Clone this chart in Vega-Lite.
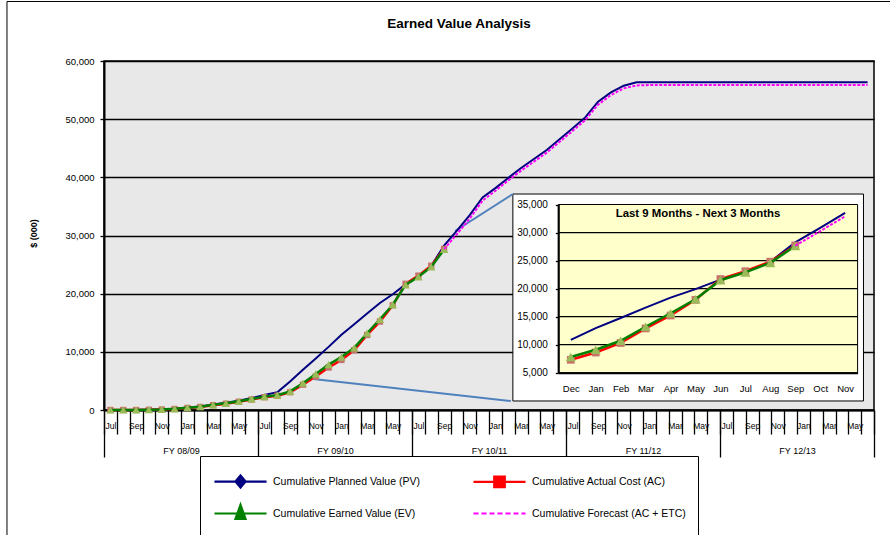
{
  "$schema": "https://vega.github.io/schema/vega-lite/v6.json",
  "width": 770,
  "height": 349,
  "autosize": {"type": "none"},
  "padding": {"left": 104, "top": 61, "right": 16, "bottom": 125},
  "background": "white",
  "title": {"text": "Earned Value Analysis", "font": "Liberation Sans", "fontSize": 13.5, "fontWeight": "bold", "color": "black", "anchor": "middle", "frame": "group", "dx": -30, "offset": -41, "baseline": "alphabetic"},
  "config": {
    "view": {"fill": "#E8E8E8", "stroke": "black", "strokeWidth": 1.5},
    "axis": {"labelFont": "Liberation Sans", "titleFont": "Liberation Sans", "labelColor": "black", "titleColor": "black", "grid": false, "tickColor": "black", "domainColor": "black"},
    "legend": {"labelFont": "Liberation Sans", "labelFontSize": 10.5, "labelColor": "black", "symbolSize": 576, "symbolStrokeWidth": 2.2, "symbolOpacity": 1, "labelOffset": 19, "symbolOffset": 15, "columnPadding": 49, "rowPadding": 8, "padding": 12, "strokeColor": "black", "fillColor": "white", "labelLimit": 400}
  },
  "datasets": {
    "d": [
      {"i":0,"s":"PV","v":0},{"i":1,"s":"PV","v":0},{"i":2,"s":"PV","v":20},{"i":3,"s":"PV","v":60},{"i":4,"s":"PV","v":120},{"i":5,"s":"PV","v":230},{"i":6,"s":"PV","v":430},{"i":7,"s":"PV","v":620},{"i":8,"s":"PV","v":950},{"i":9,"s":"PV","v":1250},
      {"i":10,"s":"PV","v":1600},{"i":11,"s":"PV","v":2050},{"i":12,"s":"PV","v":2600},{"i":13,"s":"PV","v":3050},{"i":14,"s":"PV","v":4900},{"i":15,"s":"PV","v":6900},{"i":16,"s":"PV","v":8850},{"i":17,"s":"PV","v":10850},{"i":18,"s":"PV","v":12950},{"i":19,"s":"PV","v":14750},
      {"i":20,"s":"PV","v":16600},{"i":21,"s":"PV","v":18400},{"i":22,"s":"PV","v":19900},{"i":23,"s":"PV","v":21600},{"i":24,"s":"PV","v":23000},{"i":25,"s":"PV","v":24800},{"i":26,"s":"PV","v":28250},{"i":27,"s":"PV","v":30850},{"i":28,"s":"PV","v":33500},{"i":29,"s":"PV","v":36550},
      {"i":30,"s":"PV","v":38150},{"i":31,"s":"PV","v":39900},{"i":32,"s":"PV","v":41600},{"i":33,"s":"PV","v":43150},{"i":34,"s":"PV","v":44700},{"i":35,"s":"PV","v":46550},{"i":36,"s":"PV","v":48400},{"i":37,"s":"PV","v":50300},{"i":38,"s":"PV","v":53000},{"i":39,"s":"PV","v":54600},
      {"i":40,"s":"PV","v":55750},{"i":41,"s":"PV","v":56350},{"i":42,"s":"PV","v":56350},{"i":43,"s":"PV","v":56350},{"i":44,"s":"PV","v":56350},{"i":45,"s":"PV","v":56350},{"i":46,"s":"PV","v":56350},{"i":47,"s":"PV","v":56350},{"i":48,"s":"PV","v":56350},{"i":49,"s":"PV","v":56350},
      {"i":50,"s":"PV","v":56350},{"i":51,"s":"PV","v":56350},{"i":52,"s":"PV","v":56350},{"i":53,"s":"PV","v":56350},{"i":54,"s":"PV","v":56350},{"i":55,"s":"PV","v":56350},{"i":56,"s":"PV","v":56350},{"i":57,"s":"PV","v":56350},{"i":58,"s":"PV","v":56350},{"i":59,"s":"PV","v":56350},
      {"i":0,"s":"EV","v":0},{"i":1,"s":"EV","v":0},{"i":2,"s":"EV","v":0},{"i":3,"s":"EV","v":50},{"i":4,"s":"EV","v":100},{"i":5,"s":"EV","v":200},{"i":6,"s":"EV","v":400},{"i":7,"s":"EV","v":570},{"i":8,"s":"EV","v":900},{"i":9,"s":"EV","v":1150},
      {"i":10,"s":"EV","v":1500},{"i":11,"s":"EV","v":1900},{"i":12,"s":"EV","v":2300},{"i":13,"s":"EV","v":2550},{"i":14,"s":"EV","v":3200},{"i":15,"s":"EV","v":4600},{"i":16,"s":"EV","v":6200},{"i":17,"s":"EV","v":7800},{"i":18,"s":"EV","v":9100},{"i":19,"s":"EV","v":10700},
      {"i":20,"s":"EV","v":13200},{"i":21,"s":"EV","v":15600},{"i":22,"s":"EV","v":18100},{"i":23,"s":"EV","v":21500},{"i":24,"s":"EV","v":22900},{"i":25,"s":"EV","v":24600},{"i":26,"s":"EV","v":27600},
      {"i":0,"s":"AC","v":0},{"i":1,"s":"AC","v":0},{"i":2,"s":"AC","v":0},{"i":3,"s":"AC","v":30},{"i":4,"s":"AC","v":80},{"i":5,"s":"AC","v":170},{"i":6,"s":"AC","v":350},{"i":7,"s":"AC","v":520},{"i":8,"s":"AC","v":830},{"i":9,"s":"AC","v":1080},
      {"i":10,"s":"AC","v":1420},{"i":11,"s":"AC","v":1800},{"i":12,"s":"AC","v":2200},{"i":13,"s":"AC","v":2450},{"i":14,"s":"AC","v":3050},{"i":15,"s":"AC","v":4350},{"i":16,"s":"AC","v":5750},{"i":17,"s":"AC","v":7300},{"i":18,"s":"AC","v":8600},{"i":19,"s":"AC","v":10300},
      {"i":20,"s":"AC","v":12900},{"i":21,"s":"AC","v":15200},{"i":22,"s":"AC","v":18000},{"i":23,"s":"AC","v":21700},{"i":24,"s":"AC","v":23100},{"i":25,"s":"AC","v":24800},{"i":26,"s":"AC","v":27700},
      {"i":26,"s":"FC","v":27650},{"i":27,"s":"FC","v":30250},{"i":28,"s":"FC","v":32900},{"i":29,"s":"FC","v":36000},
      {"i":30,"s":"FC","v":37700},{"i":31,"s":"FC","v":39450},{"i":32,"s":"FC","v":41150},{"i":33,"s":"FC","v":42700},{"i":34,"s":"FC","v":44250},{"i":35,"s":"FC","v":46100},{"i":36,"s":"FC","v":47950},{"i":37,"s":"FC","v":49850},{"i":38,"s":"FC","v":52500},{"i":39,"s":"FC","v":54150},
      {"i":40,"s":"FC","v":55300},{"i":41,"s":"FC","v":55800},{"i":42,"s":"FC","v":55870},{"i":43,"s":"FC","v":55870},{"i":44,"s":"FC","v":55870},{"i":45,"s":"FC","v":55870},{"i":46,"s":"FC","v":55870},{"i":47,"s":"FC","v":55870},{"i":48,"s":"FC","v":55870},{"i":49,"s":"FC","v":55870},
      {"i":50,"s":"FC","v":55870},{"i":51,"s":"FC","v":55870},{"i":52,"s":"FC","v":55870},{"i":53,"s":"FC","v":55870},{"i":54,"s":"FC","v":55870},{"i":55,"s":"FC","v":55870},{"i":56,"s":"FC","v":55870},{"i":57,"s":"FC","v":55870},{"i":58,"s":"FC","v":55870},{"i":59,"s":"FC","v":55870}
    ]
  },
  "data": {"name": "d"},
  "layer": [
    {
      "layer": [
        {
          "transform": [{"filter": "false"}],
          "mark": {"type": "point", "filled": true, "opacity": 1},
          "encoding": {
            "x": {"field": "i", "type": "quantitative", "scale": {"domain": [-0.5, 59.5], "nice": false, "zero": false}, "axis": null},
            "y": {"field": "v", "type": "quantitative", "scale": {"domain": [0, 60000], "nice": false, "zero": false}, "axis": null},
            "fill": {"field": "s", "type": "nominal", "scale": {"domain": ["PV", "EV", "AC", "FC"], "range": ["#000080", "#008000", "#FF0000", "#FF00FF"]},
              "legend": {"title": null, "orient": "none", "legendX": 96, "legendY": 395, "columns": 2, "labelExpr": "datum.label=='PV'?'Cumulative Planned Value (PV)':datum.label=='AC'?'Cumulative Actual Cost (AC)':datum.label=='EV'?'Cumulative Earned Value (EV)':'Cumulative Forecast (AC + ETC)'"}},
            "stroke": {"field": "s", "type": "nominal", "scale": {"domain": ["PV", "EV", "AC", "FC"], "range": ["#000080", "#008000", "#FF0000", "#FF00FF"]},
              "legend": {"title": null, "orient": "none", "legendX": 96, "legendY": 395, "columns": 2, "labelExpr": "datum.label=='PV'?'Cumulative Planned Value (PV)':datum.label=='AC'?'Cumulative Actual Cost (AC)':datum.label=='EV'?'Cumulative Earned Value (EV)':'Cumulative Forecast (AC + ETC)'"}},
            "shape": {"field": "s", "type": "nominal", "scale": {"domain": ["PV", "EV", "AC", "FC"], "range": ["M-2.17,0H2.17M0,-0.5L0.42,0L0,0.5L-0.42,0Z", "M-2.17,0H2.17M0,-0.72L0.42,0.46H-0.42Z", "M-2.17,0H2.17M-0.44,-0.44H0.44V0.44H-0.44Z", "M-2.17,0H-1.75M-1.5,0H-1.08M-0.83,0H-0.42M-0.17,0H0.25M0.5,0H0.92M1.17,0H1.58M1.83,0H2.17"]},
              "legend": {"title": null, "orient": "none", "legendX": 96, "legendY": 395, "columns": 2, "labelExpr": "datum.label=='PV'?'Cumulative Planned Value (PV)':datum.label=='AC'?'Cumulative Actual Cost (AC)':datum.label=='EV'?'Cumulative Earned Value (EV)':'Cumulative Forecast (AC + ETC)'"}}
          }
        },
        {
          "data": {"values": [{}]},
          "mark": {"type": "rule", "color": "black", "strokeWidth": 1},
          "encoding": {"x": {"datum": -8.06, "axis": null}, "x2": {"datum": 60.76}, "y": {"datum": 70230, "axis": null}, "y2": {"datum": 70230}}
        },
        {
          "data": {"values": [{}]},
          "mark": {"type": "rule", "color": "black", "strokeWidth": 1},
          "encoding": {"x": {"datum": -8.06, "axis": null}, "x2": {"datum": -8.06}, "y": {"datum": 70230, "axis": null}, "y2": {"datum": -21500}}
        },
        {
          "data": {"values": [{}]},
          "mark": {"type": "rect", "fill": "white", "stroke": "black", "strokeWidth": 1},
          "encoding": {"x": {"datum": 31.36, "axis": null}, "x2": {"datum": 58.68}, "y": {"datum": 37130, "axis": null}, "y2": {"datum": 1550}}
        },
        {
          "data": {"values": [{}]},
          "mark": {"type": "rule", "color": "#4F81BD", "strokeWidth": 2},
          "encoding": {"x": {"datum": 15.81, "axis": null}, "x2": {"datum": 31.2}, "y": {"datum": 5330, "axis": null}, "y2": {"datum": 1550}}
        },
        {
          "data": {"values": [{}]},
          "mark": {"type": "rule", "color": "#4F81BD", "strokeWidth": 2},
          "encoding": {"x": {"datum": 26.86, "axis": null}, "x2": {"datum": 31.36}, "y": {"datum": 30770, "axis": null}, "y2": {"datum": 37130}}
        },
        {
          "transform": [{"filter": "datum.s=='PV'"}],
          "mark": {"type": "line", "color": "#000080", "strokeWidth": 2},
          "encoding": {
            "x": {"field": "i", "type": "quantitative", "scale": {"domain": [-0.5, 59.5], "nice": false, "zero": false},
              "axis": {"orient": "bottom", "title": null, "values": [-0.5,0.5,1.5,2.5,3.5,4.5,5.5,6.5,7.5,8.5,9.5,10.5,11.5,12.5,13.5,14.5,15.5,16.5,17.5,18.5,19.5,20.5,21.5,22.5,23.5,24.5,25.5,26.5,27.5,28.5,29.5,30.5,31.5,32.5,33.5,34.5,35.5,36.5,37.5,38.5,39.5,40.5,41.5,42.5,43.5,44.5,45.5,46.5,47.5,48.5,49.5,50.5,51.5,52.5,53.5,54.5,55.5,56.5,57.5,58.5,59.5], "labels": false, "ticks": true, "tickSize": 24, "tickWidth": 1.3, "domain": true, "domainWidth": 2, "grid": false}},
            "y": {"field": "v", "type": "quantitative", "scale": {"domain": [0, 60000], "nice": false, "zero": false},
              "axis": {"orient": "left", "values": [0,10000,20000,30000,40000,50000,60000], "format": ",.0f", "grid": true, "gridColor": "black", "gridWidth": 1.3, "tickSize": 4, "tickWidth": 1.3, "labelFontSize": 9.5, "labelPadding": 6, "domainWidth": 2, "title": "$ (000)", "titleFontSize": 9, "titleFontWeight": "bold", "titleX": -71, "titleY": 172, "titleAngle": 270, "titleAlign": "center", "titleBaseline": "middle"}}
          }
        },
        {
          "transform": [{"filter": "datum.s=='AC'"}],
          "mark": {"type": "line", "color": "#FF0000", "strokeWidth": 2.5},
          "encoding": {
            "x": {"field": "i", "type": "quantitative", "scale": {"domain": [-0.5, 59.5], "nice": false, "zero": false},
              "axis": {"orient": "bottom", "title": null, "values": [0,2,4,6,8,10,12,14,16,18,20,22,24,26,28,30,32,34,36,38,40,42,44,46,48,50,52,54,56,58], "labelExpr": "['Jul','Sep','Nov','Jan','Mar','May'][(datum.value/2)%6]", "ticks": false, "tickSize": 0, "domain": false, "labelFontSize": 8.5, "labelPadding": 11, "labelFlush": false, "labelOverlap": false, "grid": false}},
            "y": {"field": "v", "type": "quantitative", "scale": {"domain": [0, 60000], "nice": false, "zero": false}, "axis": null}
          }
        },
        {
          "transform": [{"filter": "datum.s=='AC'"}],
          "mark": {"type": "point", "shape": "square", "filled": true, "color": "#C8706A", "opacity": 1, "size": 40},
          "encoding": {
            "x": {"field": "i", "type": "quantitative", "scale": {"domain": [-0.5, 59.5], "nice": false, "zero": false}, "axis": null},
            "y": {"field": "v", "type": "quantitative", "scale": {"domain": [0, 60000], "nice": false, "zero": false}, "axis": null}
          }
        },
        {
          "transform": [{"filter": "datum.s=='EV'"}],
          "mark": {"type": "line", "color": "#008000", "strokeWidth": 2.5},
          "encoding": {
            "x": {"field": "i", "type": "quantitative", "scale": {"domain": [-0.5, 59.5], "nice": false, "zero": false},
              "axis": {"orient": "bottom", "title": null, "values": [-0.5, 11.5, 23.5, 35.5, 47.5, 59.5], "labels": false, "ticks": true, "tickSize": 47, "tickWidth": 1.3, "domain": false, "grid": false}},
            "y": {"field": "v", "type": "quantitative", "scale": {"domain": [0, 60000], "nice": false, "zero": false}, "axis": null}
          }
        },
        {
          "transform": [{"filter": "datum.s=='EV'"}],
          "mark": {"type": "point", "shape": "triangle-up", "filled": true, "color": "#9BBB59", "opacity": 1, "size": 70},
          "encoding": {
            "x": {"field": "i", "type": "quantitative", "scale": {"domain": [-0.5, 59.5], "nice": false, "zero": false}, "axis": null},
            "y": {"field": "v", "type": "quantitative", "scale": {"domain": [0, 60000], "nice": false, "zero": false}, "axis": null}
          }
        },
        {
          "transform": [{"filter": "datum.s=='FC'"}],
          "mark": {"type": "line", "color": "#FF00FF", "strokeWidth": 2, "strokeDash": [3, 1.5]},
          "encoding": {
            "x": {"field": "i", "type": "quantitative", "scale": {"domain": [-0.5, 59.5], "nice": false, "zero": false},
              "axis": {"orient": "bottom", "title": null, "values": [5.5, 17.5, 29.5, 41.5, 53.5], "labelExpr": "'FY ' + ['08/09','09/10','10/11','11/12','12/13'][round((datum.value-5.5)/12)]", "ticks": false, "tickSize": 0, "domain": false, "labelFontSize": 9, "labelPadding": 36, "labelFlush": false, "labelOverlap": false, "grid": false}},
            "y": {"field": "v", "type": "quantitative", "scale": {"domain": [0, 60000], "nice": false, "zero": false}, "axis": null}
          }
        }
      ],
      "resolve": {"axis": {"x": "independent", "y": "independent"}}
    },
    {
      "layer": [
        {
          "data": {"values": [{}]},
          "mark": {"type": "rect", "fill": "#FFFFCC", "stroke": "black", "strokeWidth": 1},
          "encoding": {"x": {"datum": 16.5, "axis": null}, "x2": {"datum": 28.5}, "y": {"datum": 5000, "axis": null}, "y2": {"datum": 35000}}
        },
        {
          "data": {"values": [{"g": 10000}, {"g": 15000}, {"g": 20000}, {"g": 25000}, {"g": 30000}]},
          "mark": {"type": "rule", "color": "black", "strokeWidth": 1.3},
          "encoding": {"x": {"datum": 16.5, "axis": null}, "x2": {"datum": 28.5}, "y": {"field": "g", "type": "quantitative", "scale": {"domain": [5000, 35000], "range": [311.7, 143.5], "nice": false, "zero": false}, "axis": null}}
        },
        {
          "transform": [{"filter": "datum.s=='PV' && datum.i>=17 && datum.i<=28"}],
          "mark": {"type": "line", "color": "#000080", "strokeWidth": 2},
          "encoding": {
            "x": {"field": "i", "type": "quantitative", "scale": {"domain": [16.5, 28.5], "range": [454.3, 753.6], "nice": false, "zero": false},
              "axis": {"orient": "bottom", "offset": -37.3, "zindex": 1, "title": null, "values": [17,18,19,20,21,22,23,24,25,26,27,28], "labelExpr": "['Dec','Jan','Feb','Mar','Apr','May','Jun','Jul','Aug','Sep','Oct','Nov'][round(datum.value)-17]", "ticks": false, "tickSize": 0, "domain": true, "domainWidth": 2, "labelFontSize": 9.5, "labelPadding": 11, "labelFlush": false, "labelOverlap": false, "grid": false}},
            "y": {"field": "v", "type": "quantitative", "scale": {"domain": [5000, 35000], "range": [311.7, 143.5], "nice": false, "zero": false},
              "axis": {"orient": "left", "offset": -454.3, "zindex": 1, "title": null, "values": [5000,10000,15000,20000,25000,30000,35000], "format": ",.0f", "tickSize": 3, "tickWidth": 1.3, "labelFontSize": 10, "labelPadding": 8, "domain": true, "domainWidth": 2, "grid": false}}
          }
        },
        {
          "transform": [{"filter": "datum.s=='AC' && datum.i>=17"}],
          "mark": {"type": "line", "color": "#FF0000", "strokeWidth": 2.5},
          "encoding": {
            "x": {"field": "i", "type": "quantitative", "scale": {"domain": [16.5, 28.5], "range": [454.3, 753.6], "nice": false, "zero": false}, "axis": null},
            "y": {"field": "v", "type": "quantitative", "scale": {"domain": [5000, 35000], "range": [311.7, 143.5], "nice": false, "zero": false}, "axis": null}
          }
        },
        {
          "transform": [{"filter": "datum.s=='AC' && datum.i>=17"}],
          "mark": {"type": "point", "shape": "square", "filled": true, "color": "#C8706A", "opacity": 1, "size": 60},
          "encoding": {
            "x": {"field": "i", "type": "quantitative", "scale": {"domain": [16.5, 28.5], "range": [454.3, 753.6], "nice": false, "zero": false}, "axis": null},
            "y": {"field": "v", "type": "quantitative", "scale": {"domain": [5000, 35000], "range": [311.7, 143.5], "nice": false, "zero": false}, "axis": null}
          }
        },
        {
          "transform": [{"filter": "datum.s=='EV' && datum.i>=17"}],
          "mark": {"type": "line", "color": "#008000", "strokeWidth": 2.5},
          "encoding": {
            "x": {"field": "i", "type": "quantitative", "scale": {"domain": [16.5, 28.5], "range": [454.3, 753.6], "nice": false, "zero": false}, "axis": null},
            "y": {"field": "v", "type": "quantitative", "scale": {"domain": [5000, 35000], "range": [311.7, 143.5], "nice": false, "zero": false}, "axis": null}
          }
        },
        {
          "transform": [{"filter": "datum.s=='EV' && datum.i>=17"}],
          "mark": {"type": "point", "shape": "triangle-up", "filled": true, "color": "#9BBB59", "opacity": 1, "size": 100},
          "encoding": {
            "x": {"field": "i", "type": "quantitative", "scale": {"domain": [16.5, 28.5], "range": [454.3, 753.6], "nice": false, "zero": false}, "axis": null},
            "y": {"field": "v", "type": "quantitative", "scale": {"domain": [5000, 35000], "range": [311.7, 143.5], "nice": false, "zero": false}, "axis": null}
          }
        },
        {
          "transform": [{"filter": "datum.s=='FC' && datum.i<=28"}],
          "mark": {"type": "line", "color": "#FF00FF", "strokeWidth": 2, "strokeDash": [3, 1.5]},
          "encoding": {
            "x": {"field": "i", "type": "quantitative", "scale": {"domain": [16.5, 28.5], "range": [454.3, 753.6], "nice": false, "zero": false}, "axis": null},
            "y": {"field": "v", "type": "quantitative", "scale": {"domain": [5000, 35000], "range": [311.7, 143.5], "nice": false, "zero": false}, "axis": null}
          }
        },
        {
          "data": {"values": [{}]},
          "mark": {"type": "text", "text": "Last 9 Months - Next 3 Months", "font": "Liberation Sans", "fontSize": 11.4, "fontWeight": "bold", "color": "black", "align": "center", "baseline": "middle"},
          "encoding": {"x": {"datum": 22.1, "axis": null}, "y": {"datum": 33300, "axis": null}}
        }
      ],
      "resolve": {"axis": {"x": "independent", "y": "independent"}}
    }
  ],
  "resolve": {"scale": {"x": "independent", "y": "independent"}, "axis": {"x": "independent", "y": "independent"}}
}
